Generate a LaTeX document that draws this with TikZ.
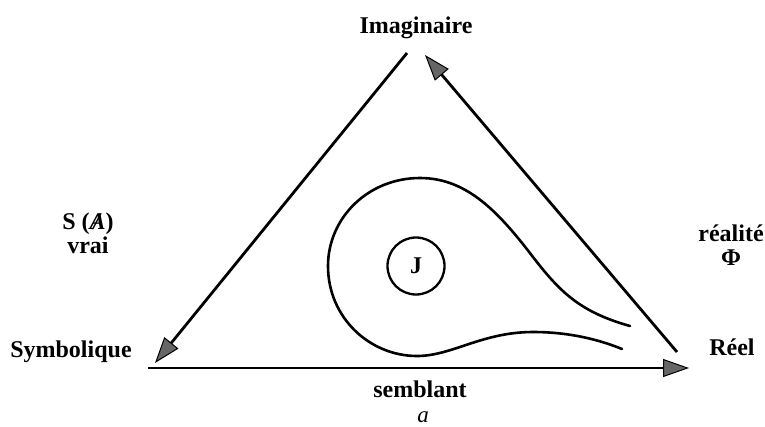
\documentclass[tikz,border=0pt]{standalone}
\usepackage{fontspec}
\setmainfont{Liberation Serif}
\usetikzlibrary{arrows.meta}
\tikzset{
  lbl/.style={font=\fontsize{24}{26}\selectfont\bfseries, inner sep=0pt, align=center},
  edge/.style={line width=2.8pt, -{Triangle[length=26pt,width=18pt,fill=black!60,line width=1pt]}},
  curve/.style={line width=2.6pt, line cap=round},
}
\begin{document}
\begin{tikzpicture}[x=1pt,y=-1pt]
\useasboundingbox (0,0) rectangle (765,426);
% labels
\node[lbl] (imag) at (416,28) {Imaginaire};
\node[lbl, anchor=base] (symb) at (71,357) {Symbolique};
\node[lbl, anchor=base] (reel) at (732,355) {Réel};
\node[lbl] (sa) at (88,233) {S (\ooalign{\textit{A}\cr\hidewidth\textit{/}\hidewidth})\\[-2pt]vrai};
\node[lbl] (real) at (731,245) {réalité\\[-2pt]Φ};
\node[lbl, anchor=base] (semb) at (420,397) {semblant};
\node[lbl, font=\fontsize{23}{25}\selectfont\itshape, anchor=base] (aa) at (423,422) {a};
% triangle corners
\coordinate (tl) at (407,53);
\coordinate (symtip) at (155,363);
\coordinate (rb) at (677,352);
\coordinate (toptip) at (425,55);
\coordinate (bl) at (148,368);
\coordinate (rtip) at (689,368);
\draw[edge] (tl) -- (symtip);
\draw[edge] (rb) -- (toptip);
\draw[edge] (bl) -- (rtip);
% teardrop
\draw[curve] (630,326) .. controls (580,312) and (560,292) .. (533,257)
  .. controls (500,214) and (468,178) .. (420,178)
  .. controls (368,178) and (328,218) .. (328,266)
  .. controls (328,318) and (370,356) .. (417,356)
  .. controls (452,356) and (482,332) .. (533,332)
  .. controls (570,332) and (600,340) .. (622,349);
% J circle
\node[draw, circle, line width=2.3pt, minimum size=57pt, inner sep=0pt, font=\fontsize{24}{26}\selectfont\bfseries] (j) at (416,266) {J};
\end{tikzpicture}
\end{document}
